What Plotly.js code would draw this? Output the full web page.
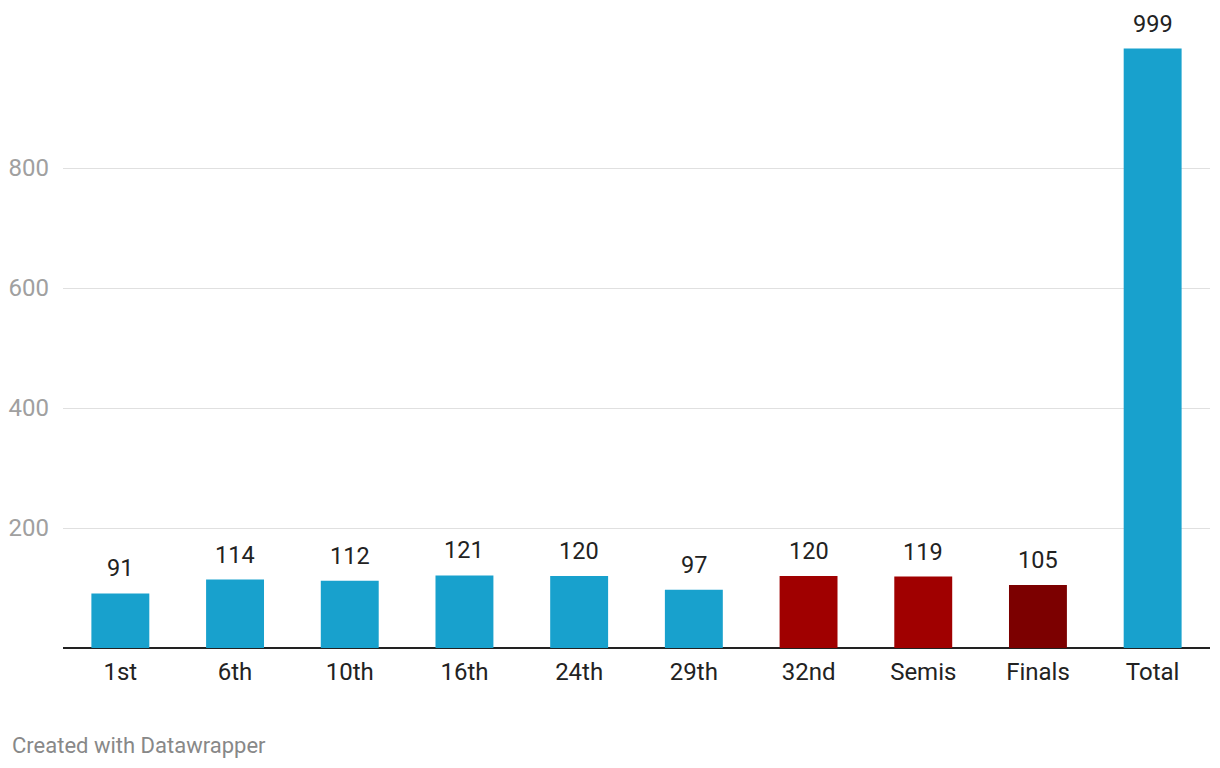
<!DOCTYPE html>
<html>
<head>
<meta charset="utf-8">
<script src="https://cdn.plot.ly/plotly-3.0.1.min.js"></script>
<style>html,body{margin:0;padding:0;background:#fff;}#chart{width:1220px;height:768px;}</style>
</head>
<body>
<div id="chart"></div>
<script>
var categories = ["1st", "6th", "10th", "16th", "24th", "29th", "32nd", "Semis", "Finals", "Total"];
var values = [91, 114, 112, 121, 120, 97, 120, 119, 105, 999];
var barColors = ["#18a1cd", "#18a1cd", "#18a1cd", "#18a1cd", "#18a1cd", "#18a1cd", "#a00000", "#a00000", "#7c0000", "#18a1cd"];
var yTicks = [200, 400, 600, 800];

var trace = {
  type: "bar",
  x: categories,
  y: values,
  width: 0.505,
  marker: {color: barColors},
  hoverinfo: "none"
};

var annotations = categories.map(function (c, i) {
  return {
    x: c, y: values[i], xref: "x", yref: "y",
    text: String(values[i]), showarrow: false,
    yanchor: "bottom", yshift: 9,
    font: {family: "Roboto", size: 23.5, color: "#222"}
  };
});
annotations.push({
  x: (10 - 63) / (1220 - 63 - 10), y: (768 - 120 - 745) / (768 - 48 - 120),
  xref: "paper", yref: "paper", text: "Created with Datawrapper",
  showarrow: false, xanchor: "left", yanchor: "middle",
  font: {family: "Roboto", size: 22, color: "#888"}
});

var layout = {
  width: 1220, height: 768,
  margin: {l: 63, r: 10, t: 48, b: 120},
  paper_bgcolor: "#fff", plot_bgcolor: "#fff",
  showlegend: false,
  font: {family: "Roboto", color: "#222"},
  xaxis: {
    type: "category",
    showgrid: false, zeroline: false, showline: false,
    ticks: "", ticklabelstandoff: 7,
    tickfont: {family: "Roboto", size: 24, color: "#222"}
  },
  yaxis: {
    range: [0, 1000],
    tickvals: yTicks,
    ticktext: yTicks.map(String),
    showgrid: true, gridcolor: "#e0e0e0", gridwidth: 1,
    zeroline: true, zerolinecolor: "#222", zerolinewidth: 2,
    showline: false, ticks: "", ticklabelstandoff: 13,
    tickfont: {family: "Roboto", size: 24, color: "#a0a0a0"}
  },
  annotations: annotations
};

Plotly.newPlot("chart", [trace], layout, {displayModeBar: false, staticPlot: true});
</script>
</body>
</html>
